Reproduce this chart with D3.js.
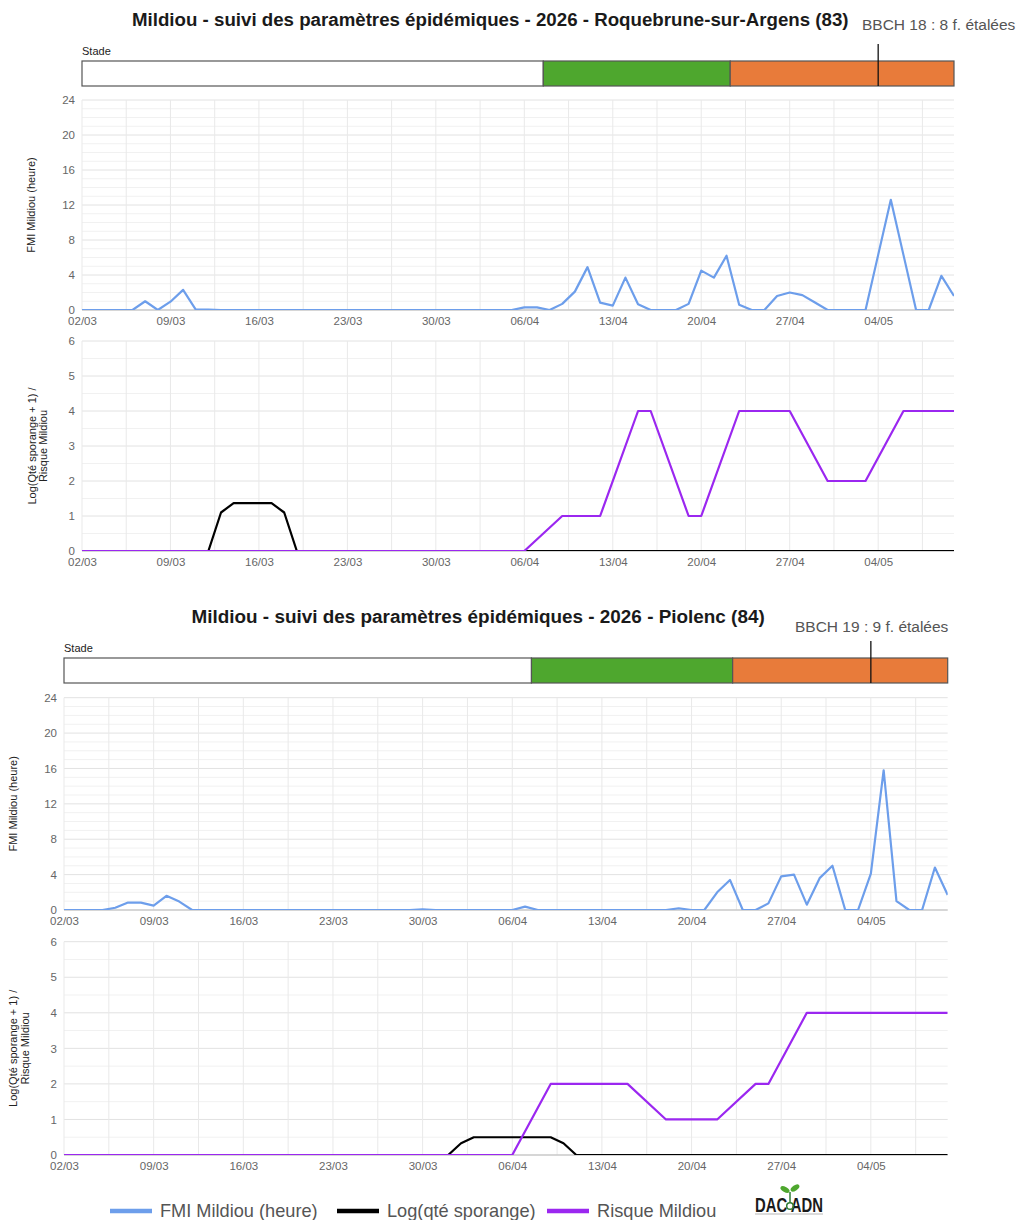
<!DOCTYPE html>
<html>
<head>
<meta charset="utf-8">
<style>
  body { margin: 0; background: #fff; }
  svg text { font-family: "Liberation Sans", Arial, sans-serif; }
</style>
</head>
<body>
<svg id="chart" width="1019" height="1220"></svg>
<script src="https://d3js.org/d3.v7.min.js"></script>
<script>
// ---- données ----
const startDay = '02/03/2026'
const endDay = '10/05/2026'
const tickLabels = ['02/03', '09/03', '16/03', '23/03', '30/03', '06/04', '13/04', '20/04', '27/04', '04/05']
const seriesNames = ['FMI Mildiou (heure)', 'Log(qté sporange)', 'Risque Mildiou']

// Roquebrune-sur-Argens (83), une valeur par jour du 02/03 au 10/05
const fmiRoquebrune = [0, 0, 0, 0, 0, 1.0, 0, 0.95, 2.3, 0.05,
  0.05, 0, 0, 0, 0, 0, 0, 0, 0, 0,
  0, 0, 0, 0, 0, 0, 0, 0, 0, 0,
  0, 0, 0, 0, 0, 0.3, 0.3, 0, 0.7, 2.1,
  4.9, 0.85, 0.5, 3.7, 0.65, 0, 0, 0, 0.7, 4.5,
  3.7, 6.2, 0.6, 0, 0, 1.6, 2.0, 1.7, 0.85, 0,
  0, 0, 0, 6.3, 12.6, 6.3, 0, 0, 3.9, 1.6]
const sporRoquebrune = [0, 0, 0, 0, 0, 0, 0, 0, 0, 0,
  0, 1.1, 1.37, 1.37, 1.37, 1.37, 1.1, 0, 0, 0,
  0, 0, 0, 0, 0, 0, 0, 0, 0, 0,
  0, 0, 0, 0, 0, 0, 0, 0, 0, 0,
  0, 0, 0, 0, 0, 0, 0, 0, 0, 0,
  0, 0, 0, 0, 0, 0, 0, 0, 0, 0,
  0, 0, 0, 0, 0, 0, 0, 0, 0, 0]
const risqueRoquebrune = [0, 0, 0, 0, 0, 0, 0, 0, 0, 0,
  0, 0, 0, 0, 0, 0, 0, 0, 0, 0,
  0, 0, 0, 0, 0, 0, 0, 0, 0, 0,
  0, 0, 0, 0, 0, 0, null, null, 1, null,
  null, 1, null, null, 4, 4, null, null, 1, 1,
  null, null, 4, null, null, null, 4, null, null, 2,
  null, null, 2, null, null, 4, null, null, null, 4]
const stadeRoquebrune = ['02/03/2026 00h', '07/04/2026 12h', '22/04/2026 07h', '10/05/2026 00h']
const bbchRoquebrune = { day: '04/05/2026', label: 'BBCH 18 : 8 f. étalées' }

// Piolenc (84)
const fmiPiolenc = [0, 0, 0, 0, 0.25, 0.85, 0.83, 0.5, 1.6, 0.95,
  0, 0, 0, 0, 0, 0, 0, 0, 0, 0,
  0, 0, 0, 0, 0, 0, 0, 0, 0.08, 0,
  0, 0, 0, 0, 0, 0, 0.38, 0, 0, 0,
  0, 0, 0, 0, 0, 0, 0, 0, 0.2, 0,
  0, 2.0, 3.4, 0, 0, 0.75, 3.8, 4.0, 0.6, 3.6,
  5.0, 0, 0, 4.1, 15.8, 1.0, 0, 0, 4.8, 1.7]
const sporPiolenc = [0, 0, 0, 0, 0, 0, 0, 0, 0, 0,
  0, 0, 0, 0, 0, 0, 0, 0, 0, 0,
  0, 0, 0, 0, 0, 0, 0, 0, 0, 0,
  0, 0.33, 0.5, 0.5, 0.5, 0.5, 0.5, 0.5, 0.5, 0.33,
  0, 0, 0, 0, 0, 0, 0, 0, 0, 0,
  0, 0, 0, 0, 0, 0, 0, 0, 0, 0,
  0, 0, 0, 0, 0, 0, 0, 0, 0, 0]
const risquePiolenc = [0, 0, 0, 0, 0, 0, 0, 0, 0, 0,
  0, 0, 0, 0, 0, 0, 0, 0, 0, 0,
  0, 0, 0, 0, 0, 0, 0, 0, 0, 0,
  0, 0, 0, 0, 0, 0, null, null, 2, null,
  null, null, null, null, 2, null, null, 1, null, null,
  null, 1, null, null, 2, 2, null, null, 4, 4,
  4, 4, 4, 4, 4, 4, 4, 4, 4, 4]
const stadePiolenc = ['02/03/2026 00h', '07/04/2026 12h', '23/04/2026 05h', '10/05/2026 00h']
const bbchPiolenc = { day: '04/05/2026', label: 'BBCH 19 : 9 f. étalées' }

// ---- style ----
const colors = { fmi: '#6d9eeb', spor: '#000000', risque: '#9b27f0' }
const stadeColors = ['#ffffff', '#4ea72e', '#e87b3a']

const parseDay = d3.utcParse('%d/%m/%Y')
const parseHour = d3.utcParse('%d/%m/%Y %Hh')
const days = d3.utcDay.range(parseDay(startDay), d3.utcDay.offset(parseDay(endDay), 1))
const tickDates = tickLabels.map(t => parseDay(t + '/2026'))

const svg = d3.select('#chart')
svg.append('rect').attr('width', 1019).attr('height', 1220).attr('fill', '#fff')

let clipId = 0

function plot(g, x, y, cfg, yTicks, yMajor, series, top, bottom) {
  const id = 'clip' + (clipId++)
  g.append('clipPath').attr('id', id)
    .append('rect')
    .attr('x', cfg.left).attr('y', top - 6)
    .attr('width', cfg.right - cfg.left).attr('height', bottom - top + 6)

  // grille horizontale
  g.append('g').selectAll('line')
    .data(yTicks)
    .join('line')
    .attr('x1', cfg.left).attr('x2', cfg.right)
    .attr('y1', d => y(d)).attr('y2', d => y(d))
    .attr('stroke', d => yMajor(d) ? '#e2e2e2' : '#f1f1f1')
    .attr('stroke-width', 1)

  // grille verticale (demi-semaines)
  const halfWeeks = d3.range(0, days.length - 1, 3.5).map(n => new Date(days[0].getTime() + n * 864e5))
  g.append('g').selectAll('line')
    .data(halfWeeks)
    .join('line')
    .attr('x1', d => x(d)).attr('x2', d => x(d))
    .attr('y1', top).attr('y2', bottom)
    .attr('stroke', '#e9e9e9')
    .attr('stroke-width', 1)

  // ligne de base
  g.append('line')
    .attr('x1', cfg.left).attr('x2', cfg.right)
    .attr('y1', bottom).attr('y2', bottom)
    .attr('stroke', '#bbb')

  // axes
  const yAxis = g.append('g')
    .attr('transform', `translate(${cfg.left - 7},0)`)
    .call(d3.axisLeft(y).tickValues(yTicks.filter(yMajor)).tickSize(0).tickPadding(0).tickFormat(d3.format('d')))
  yAxis.select('.domain').remove()
  yAxis.selectAll('text').attr('font-size', 11.5).attr('fill', '#666')
    .attr('font-family', '"Liberation Sans", Arial, sans-serif')

  const xAxis = g.append('g')
    .attr('transform', `translate(0,${bottom})`)
    .call(d3.axisBottom(x).tickValues(tickDates).tickSize(0).tickPadding(7).tickFormat(d3.utcFormat('%d/%m')))
  xAxis.select('.domain').remove()
  xAxis.selectAll('text').attr('font-size', 11.5).attr('fill', '#666')
    .attr('font-family', '"Liberation Sans", Arial, sans-serif')

  // séries
  const line = d3.line().x(d => x(d.day)).y(d => y(d.v))
  series.forEach(s => {
    const pts = days.map((day, i) => ({ day, v: s.values[i] })).filter(d => d.v != null)
    g.append('path')
      .attr('d', line(pts))
      .attr('fill', 'none')
      .attr('stroke', s.color)
      .attr('stroke-width', 2.2)
      .attr('stroke-linejoin', 'round')
      .attr('clip-path', `url(#${id})`)
  })
}

function station(cfg, title, fmi, spor, risque, stade, bbch) {
  const g = svg.append('g')
  const x = d3.scaleUtc()
    .domain([days[0], days[days.length - 1]])
    .range([cfg.left, cfg.right])

  g.append('text')
    .attr('x', cfg.titleX).attr('y', cfg.titleY)
    .attr('font-size', cfg.titleSize).attr('font-weight', 'bold').attr('fill', '#1a1a1a')
    .text(title)

  // bandeau des stades
  g.append('text')
    .attr('x', cfg.left).attr('y', cfg.barTop - 6)
    .attr('font-size', 11).attr('fill', '#222')
    .text('Stade')

  const stadeDates = stade.map(parseHour)
  g.append('g').selectAll('rect')
    .data(d3.pairs(stadeDates))
    .join('rect')
    .attr('x', d => x(d[0]))
    .attr('width', d => x(d[1]) - x(d[0]))
    .attr('y', cfg.barTop)
    .attr('height', cfg.barBottom - cfg.barTop)
    .attr('fill', (d, i) => stadeColors[i])
    .attr('stroke', '#555')
    .attr('stroke-width', 1.2)

  const bx = x(parseDay(bbch.day))
  g.append('line')
    .attr('x1', bx).attr('x2', bx)
    .attr('y1', cfg.markTop).attr('y2', cfg.barBottom)
    .attr('stroke', '#111').attr('stroke-width', 1.3)
  g.append('text')
    .attr('x', cfg.bbchX).attr('y', cfg.bbchY)
    .attr('font-family', 'Lato, "Open Sans", sans-serif')
    .attr('font-size', 15.5).attr('fill', '#555')
    .text(bbch.label)

  // FMI
  const yFmi = d3.scaleLinear().domain([0, 24]).range([cfg.fmiBottom, cfg.fmiTop])
  plot(g, x, yFmi, cfg, d3.range(0, 25, 1), d => d % 4 === 0,
    [{ values: fmi, color: colors.fmi }], cfg.fmiTop, cfg.fmiBottom)

  g.append('text')
    .attr('transform', `translate(${cfg.fmiTitleX},${(cfg.fmiTop + cfg.fmiBottom) / 2}) rotate(-90)`)
    .attr('text-anchor', 'middle')
    .attr('font-size', 11).attr('fill', '#222')
    .text('FMI Mildiou (heure)')

  // sporanges / risque
  const yRisk = d3.scaleLinear().domain([0, 6]).range([cfg.riskBottom, cfg.riskTop])
  plot(g, x, yRisk, cfg, d3.range(0, 6.01, 0.5), d => d % 1 === 0,
    [{ values: spor, color: colors.spor }, { values: risque, color: colors.risque }],
    cfg.riskTop, cfg.riskBottom)

  const rt = g.append('text')
    .attr('transform', `translate(${cfg.riskTitleX},${(cfg.riskTop + cfg.riskBottom) / 2}) rotate(-90)`)
    .attr('text-anchor', 'middle')
    .attr('font-size', 11).attr('fill', '#222')
  rt.append('tspan').attr('x', 0).attr('dy', 0).text('Log(Qté sporange + 1) /')
  rt.append('tspan').attr('x', 0).attr('dy', cfg.riskLine).text('Risque Mildiou')
}

station({
  left: 82, right: 954, titleX: 132, titleY: 26, titleSize: 18.7,
  barTop: 61, barBottom: 86, markTop: 44, bbchX: 862, bbchY: 30,
  fmiTop: 100, fmiBottom: 310, fmiTitleX: 35,
  riskTop: 341, riskBottom: 551, riskTitleX: 36, riskLine: 11
}, 'Mildiou - suivi des paramètres épidémiques - 2026 - Roquebrune-sur-Argens (83)',
  fmiRoquebrune, sporRoquebrune, risqueRoquebrune, stadeRoquebrune, bbchRoquebrune)

station({
  left: 64, right: 947.7, titleX: 191.5, titleY: 623, titleSize: 18.9,
  barTop: 658, barBottom: 683, markTop: 641, bbchX: 795, bbchY: 632,
  fmiTop: 697.7, fmiBottom: 910, fmiTitleX: 17,
  riskTop: 941.7, riskBottom: 1155, riskTitleX: 17, riskLine: 12
}, 'Mildiou - suivi des paramètres épidémiques - 2026 - Piolenc (84)',
  fmiPiolenc, sporPiolenc, risquePiolenc, stadePiolenc, bbchPiolenc)

// ---- légende ----
const legendX = [110, 337, 547]
const legend = svg.append('g')
seriesNames.forEach((name, i) => {
  const c = [colors.fmi, colors.spor, colors.risque][i]
  legend.append('line')
    .attr('x1', legendX[i]).attr('x2', legendX[i] + 42)
    .attr('y1', 1211).attr('y2', 1211)
    .attr('stroke', c).attr('stroke-width', 4.5)
  legend.append('text')
    .attr('x', legendX[i] + 50).attr('y', 1217)
    .attr('font-family', 'Lato, "Open Sans", sans-serif')
    .attr('font-size', 18.2).attr('fill', '#555')
    .text(name)
})

// ---- logo ----
const logo = svg.append('g').attr('transform', 'translate(755,1183)')
logo.append('text').attr('x', 0).attr('y', 29)
  .attr('font-family', '"DejaVu Sans", sans-serif').attr('font-weight', 'bold')
  .attr('font-size', 20).attr('fill', '#1a1a1a')
  .attr('textLength', 68).attr('lengthAdjust', 'spacingAndGlyphs')
  .text('DAC ADN')
logo.append('line').attr('x1', 0).attr('x2', 68).attr('y1', 31).attr('y2', 31)
  .attr('stroke', '#888').attr('stroke-width', 0.6)
logo.append('circle').attr('cx', 35).attr('cy', 23).attr('r', 3.3)
  .attr('fill', 'none').attr('stroke', '#2f7d32').attr('stroke-width', 1.5)
logo.append('line').attr('x1', 35).attr('x2', 35).attr('y1', 19.5).attr('y2', 9)
  .attr('stroke', '#2f7d32').attr('stroke-width', 1.5)
logo.append('ellipse').attr('cx', 30).attr('cy', 6.5).attr('rx', 5).attr('ry', 2.6)
  .attr('transform', 'rotate(30,30,6.5)').attr('fill', '#4ea72e')
logo.append('ellipse').attr('cx', 40).attr('cy', 5).attr('rx', 5).attr('ry', 2.6)
  .attr('transform', 'rotate(-35,40,5)').attr('fill', '#4ea72e')
</script>
</body>
</html>
